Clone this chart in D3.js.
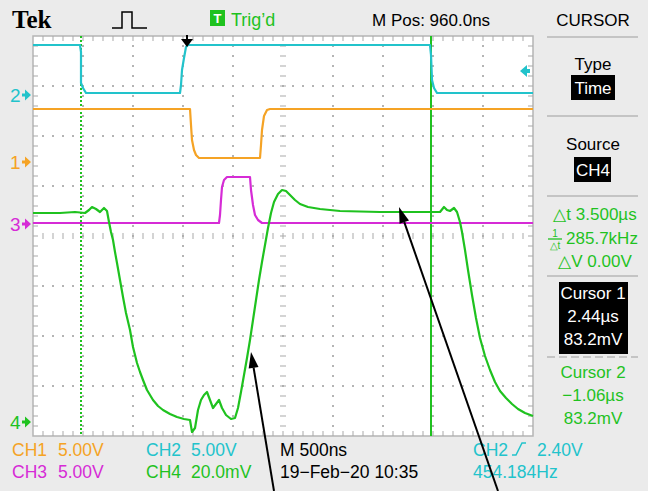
<!DOCTYPE html>
<html lang="en">
  <head>
    <meta charset="UTF-8" />
    <title>Tek scope capture</title>
    <style>
      body {
        margin: 0;
        background: #ebebeb;
      }
      svg {
        display: block;
        font-family: "Liberation Sans", Arial, sans-serif;
      }
    </style>
  </head>

  <body>
    <script src="https://cdn.jsdelivr.net/npm/d3@7"></script>
    <script>
      // horizontal setup (µs)
      const tempsParDiv = 0.5;
      const positionM = 0.96;

      // CH1 (V)
      const ch1T = [-1.54, 0.03, 0.04, 0.05, 0.07, 0.09, 0.12, 0.73, 0.74, 0.75, 0.77, 0.8, 0.83, 3.46];
      const ch1V = [5.3, 5.3, 3.7, 2.2, 1.2, 0.7, 0.4, 0.4, 1.7, 3.2, 4.6, 5.2, 5.3, 5.3];

      // CH2 (V)
      const ch2T = [-1.54, -1.07, -1.06, -1.06, -1.04, -1.01, -0.07, -0.06, -0.05, -0.03, -0.01, 0.01, 2.43, 2.44, 2.45, 2.47, 2.5, 3.46];
      const ch2V = [5.0, 5.0, 4.3, 1.2, 0.7, 0.2, 0.2, 1.0, 2.5, 3.7, 4.8, 5.0, 5.0, 4.0, 1.5, 0.7, 0.2, 0.2];

      // CH3 (V)
      const ch3T = [-1.54, 0.32, 0.33, 0.34, 0.35, 0.37, 0.4, 0.63, 0.64, 0.66, 0.68, 0.71, 0.75, 3.46];
      const ch3V = [0.1, 0.1, 0.9, 2.4, 3.7, 4.4, 4.7, 4.7, 3.4, 1.9, 0.9, 0.4, 0.1, 0.1];

      // CH4 (mV)
      const ch4T = [
        -1.54, -1.27, -1.12, -1.02, -0.98, -0.95, -0.91, -0.87, -0.83, -0.8,
        -0.78, -0.76, -0.74, -0.72, -0.7, -0.67, -0.64, -0.61, -0.57, -0.54,
        -0.5, -0.47, -0.44, -0.4, -0.34, -0.29, -0.24, -0.17, -0.1, -0.03,
        0.03, 0.05, 0.08, 0.11, 0.14, 0.17, 0.2, 0.23, 0.26, 0.29,
        0.32, 0.35, 0.39, 0.44, 0.48, 0.51, 0.54, 0.57, 0.6, 0.63,
        0.66, 0.69, 0.72, 0.75, 0.78, 0.81, 0.84, 0.87, 0.91, 0.95,
        0.99, 1.03, 1.08, 1.13, 1.21, 1.33, 1.53, 1.93, 2.33, 2.53,
        2.57, 2.6, 2.63, 2.67, 2.7, 2.73, 2.75, 2.78, 2.81, 2.85,
        2.89, 2.93, 2.98, 3.03, 3.08, 3.13, 3.19, 3.25, 3.31, 3.38, 3.46,
      ];
      const ch4V = [
        83.6, 83.6, 84.0, 83.6, 84.8, 86.0, 85.2, 84.0, 85.6, 84.4,
        80.0, 76.0, 72.8, 68.0, 63.6, 56.8, 50.0, 43.6, 36.8, 30.0,
        23.6, 20.0, 16.8, 12.8, 8.8, 6.4, 4.8, 3.2, 2.0, 1.2,
        0.8, -4.0, -2.4, 4.8, 8.8, 10.8, 12.0, 8.8, 5.6, 7.2,
        8.8, 5.6, 2.8, 1.2, 1.6, 5.6, 12.0, 18.8, 25.6, 32.8,
        40.8, 48.8, 56.8, 64.0, 70.8, 77.6, 83.6, 88.0, 91.2, 92.8,
        92.4, 90.8, 88.8, 87.2, 86.0, 85.2, 84.4, 84.0, 84.0, 84.0,
        86.0, 84.8, 84.4, 85.6, 84.0, 80.0, 76.0, 68.8, 60.8, 50.8,
        41.6, 33.6, 26.4, 20.8, 16.0, 12.4, 9.6, 7.2, 5.2, 3.6, 2.4,
      ];

      // curseurs (µs) et déclenchement
      const curseur1 = 2.44;
      const curseur2 = -1.06;
      const niveauTrig = 2.4; // V sur CH2

      const canaux = [
        { nom: "1", t: ch1T, v: ch1V, parDiv: 5, offset: 1.48, couleur: "#f5a325" },
        { nom: "2", t: ch2T, v: ch2V, parDiv: 5, offset: 2.82, couleur: "#22c3cb" },
        { nom: "3", t: ch3T, v: ch3V, parDiv: 5, offset: 0.24, couleur: "#d62bd6" },
        { nom: "4", t: ch4T, v: ch4V, parDiv: 20, offset: -3.72, couleur: "#1fc21f" },
      ];

      const vert = "#1fc21f";
      const gris = "#a9a9a9";

      const svg = d3.select("body").append("svg").attr("width", 648).attr("height", 491);

      const gauche = 33, droite = 533, haut = 36, bas = 436;

      const x = d3
        .scaleLinear()
        .domain([positionM - 5 * tempsParDiv, positionM + 5 * tempsParDiv])
        .range([gauche, droite]);
      const yDiv = d3.scaleLinear().domain([-4, 4]).range([bas, haut]);
      const yCanal = (c, v) => yDiv(c.offset + v / c.parDiv);

      dessinerGrille();
      dessinerCurseurs();
      dessinerTraces();
      dessinerMarqueurs();
      dessinerEntete();
      dessinerPanneau();
      dessinerPied();
      dessinerFleches();

      function dessinerGrille() {
        svg.append("rect")
          .attr("x", gauche).attr("y", haut)
          .attr("width", droite - gauche).attr("height", bas - haut)
          .attr("fill", "white").attr("stroke", "#b5b5b5").attr("stroke-width", 1.5);

        const g = svg.append("g").attr("fill", "#b4b4b4");
        const xsMaj = d3.range(1, 10).map((i) => gauche + i * 50);
        const ysMaj = d3.range(1, 8).map((j) => haut + j * 50);
        const xsMin = d3.range(gauche + 10, droite, 10);
        const ysMin = d3.range(haut + 10, bas, 10);

        // points de la grille
        xsMaj.forEach((xx) => {
          if (xx === 283) return;
          ysMin.forEach((yy) => g.append("rect").attr("x", xx - 1).attr("y", yy - 1).attr("width", 2).attr("height", 2));
        });
        ysMaj.forEach((yy) => {
          if (yy === 236) return;
          xsMin.forEach((xx) => g.append("rect").attr("x", xx - 1).attr("y", yy - 1).attr("width", 2).attr("height", 2));
        });

        // axes centraux gradués
        const t = svg.append("g").attr("stroke", gris).attr("stroke-width", 1);
        xsMin.forEach((xx) => t.append("line").attr("x1", xx).attr("x2", xx).attr("y1", 233).attr("y2", 239));
        ysMin.forEach((yy) => t.append("line").attr("x1", 280).attr("x2", 286).attr("y1", yy).attr("y2", yy));

        // graduations du bord
        xsMin.forEach((xx) => {
          t.append("line").attr("x1", xx).attr("x2", xx).attr("y1", haut).attr("y2", haut + 5);
          t.append("line").attr("x1", xx).attr("x2", xx).attr("y1", bas - 5).attr("y2", bas);
        });
        ysMin.forEach((yy) => {
          t.append("line").attr("x1", gauche).attr("x2", gauche + 5).attr("y1", yy).attr("y2", yy);
          t.append("line").attr("x1", droite - 5).attr("x2", droite).attr("y1", yy).attr("y2", yy);
        });
      }

      function dessinerCurseurs() {
        svg.append("line")
          .attr("x1", x(curseur2)).attr("x2", x(curseur2))
          .attr("y1", haut).attr("y2", bas)
          .attr("stroke", vert).attr("stroke-width", 2).attr("stroke-dasharray", "2,2");
        svg.append("line")
          .attr("x1", x(curseur1)).attr("x2", x(curseur1))
          .attr("y1", haut).attr("y2", bas)
          .attr("stroke", vert).attr("stroke-width", 2);
      }

      function dessinerTraces() {
        canaux.forEach((c) => {
          const ligne = d3
            .line()
            .x((d, i) => x(c.t[i]))
            .y((d) => yCanal(c, d));
          svg.append("path")
            .attr("d", ligne(c.v))
            .attr("fill", "none")
            .attr("stroke", c.couleur)
            .attr("stroke-width", 2.2)
            .attr("stroke-linejoin", "round");
        });
      }

      function dessinerMarqueurs() {
        canaux.forEach((c) => {
          const y0 = yCanal(c, 0);
          svg.append("text")
            .attr("x", 10).attr("y", y0 + 7)
            .attr("fill", c.couleur).attr("font-size", 19)
            .text(c.nom);
          svg.append("path")
            .attr("d", `M22,${y0 - 1.5}h3v-4l6,5.5l-6,5.5v-4h-3z`)
            .attr("fill", c.couleur);
        });

        // position du déclenchement
        const xt = x(0);
        svg.append("path")
          .attr("d", `M${xt - 1},${haut - 1}h2v4h5l-6,8l-6,-8h5z`)
          .attr("fill", "black");

        // niveau de déclenchement (CH2)
        const ch2 = canaux[1];
        const yt = yCanal(ch2, niveauTrig);
        svg.append("path")
          .attr("d", `M520,${yt}l7,-6v4h3v4h-3v4z`)
          .attr("fill", ch2.couleur);
      }

      function dessinerEntete() {
        svg.append("text")
          .attr("x", 12).attr("y", 28)
          .attr("font-family", "'Liberation Serif', serif")
          .attr("font-weight", "bold").attr("font-size", 25)
          .text("Tek");

        svg.append("path")
          .attr("d", "M112,28H122V12H132V28H147")
          .attr("fill", "none").attr("stroke", "black").attr("stroke-width", 1.5);

        svg.append("rect")
          .attr("x", 210).attr("y", 10).attr("width", 15).attr("height", 16)
          .attr("fill", vert);
        svg.append("text")
          .attr("x", 217.5).attr("y", 23).attr("text-anchor", "middle")
          .attr("fill", "white").attr("font-weight", "bold").attr("font-size", 13)
          .text("T");
        svg.append("text")
          .attr("x", 231).attr("y", 26)
          .attr("fill", vert).attr("font-size", 18)
          .text("Trig’d");

        svg.append("text")
          .attr("x", 372).attr("y", 26).attr("font-size", 17)
          .text("M Pos: 960.0ns");
        svg.append("text")
          .attr("x", 593).attr("y", 26).attr("font-size", 17).attr("text-anchor", "middle")
          .text("CURSOR");
      }

      function dessinerPanneau() {
        const cx = 593;
        const sep = (y, pointille) =>
          svg.append("line")
            .attr("x1", 547).attr("x2", 638).attr("y1", y).attr("y2", y)
            .attr("stroke", "#c4c4c4").attr("stroke-width", 2)
            .attr("stroke-dasharray", pointille ? "8,4" : null);

        sep(37);
        svg.append("text").attr("x", cx).attr("y", 70).attr("text-anchor", "middle").attr("font-size", 17).text("Type");
        svg.append("rect").attr("x", 571).attr("y", 75).attr("width", 44).attr("height", 25).attr("fill", "black");
        svg.append("text").attr("x", cx).attr("y", 94).attr("text-anchor", "middle").attr("font-size", 17).attr("fill", "white").text("Time");

        sep(116);
        svg.append("text").attr("x", cx).attr("y", 150).attr("text-anchor", "middle").attr("font-size", 17).text("Source");
        svg.append("rect").attr("x", 574).attr("y", 157).attr("width", 37).attr("height", 25).attr("fill", "black");
        svg.append("text").attr("x", cx).attr("y", 176).attr("text-anchor", "middle").attr("font-size", 17).attr("fill", "white").text("CH4");

        sep(196);
        const mesures = [
          { x: cx + 2, y: 220, txt: "△t 3.500µs" },
          { x: cx + 9, y: 244, txt: "285.7kHz" },
          { x: cx + 2, y: 267, txt: "△V 0.00V" },
        ];
        mesures.forEach((m) =>
          svg.append("text").attr("x", m.x).attr("y", m.y).attr("text-anchor", "middle")
            .attr("font-size", 17).attr("fill", vert).text(m.txt)
        );
        // fraction 1/Δt
        svg.append("text").attr("x", 555).attr("y", 237).attr("text-anchor", "middle").attr("font-size", 10).attr("fill", vert).text("1");
        svg.append("line").attr("x1", 548).attr("x2", 562).attr("y1", 239).attr("y2", 239).attr("stroke", vert).attr("stroke-width", 1.3);
        svg.append("text").attr("x", 555).attr("y", 249).attr("text-anchor", "middle").attr("font-size", 10).attr("fill", vert).text("△t");

        sep(276);
        svg.append("rect").attr("x", 559).attr("y", 282).attr("width", 69).attr("height", 72).attr("fill", "black");
        ["Cursor 1", "2.44µs", "83.2mV"].forEach((s, i) =>
          svg.append("text").attr("x", cx).attr("y", 299 + i * 23).attr("text-anchor", "middle")
            .attr("font-size", 17).attr("fill", "white").text(s)
        );

        sep(357, true);
        ["Cursor 2", "−1.06µs", "83.2mV"].forEach((s, i) =>
          svg.append("text").attr("x", cx).attr("y", 378 + i * 23).attr("text-anchor", "middle")
            .attr("font-size", 17).attr("fill", vert).text(s)
        );
      }

      function dessinerPied() {
        const lignes = [
          [
            { x: 12, txt: "CH1", c: canaux[0].couleur },
            { x: 58, txt: "5.00V", c: canaux[0].couleur },
            { x: 146, txt: "CH2", c: canaux[1].couleur },
            { x: 191, txt: "5.00V", c: canaux[1].couleur },
            { x: 280, txt: "M 500ns", c: "black" },
            { x: 473, txt: "CH2", c: canaux[1].couleur },
            { x: 537, txt: "2.40V", c: canaux[1].couleur },
          ],
          [
            { x: 12, txt: "CH3", c: canaux[2].couleur },
            { x: 58, txt: "5.00V", c: canaux[2].couleur },
            { x: 146, txt: "CH4", c: canaux[3].couleur },
            { x: 191, txt: "20.0mV", c: canaux[3].couleur },
            { x: 280, txt: "19−Feb−20 10:35", c: "black" },
            { x: 473, txt: "454.184Hz", c: canaux[1].couleur },
          ],
        ];
        lignes.forEach((l, i) =>
          l.forEach((e) =>
            svg.append("text").attr("x", e.x).attr("y", 456 + i * 22)
              .attr("font-size", 17.5).attr("fill", e.c).text(e.txt)
          )
        );
        // symbole de front montant
        svg.append("path")
          .attr("d", "M512,455h4l6,-12h4")
          .attr("fill", "none").attr("stroke", canaux[1].couleur).attr("stroke-width", 1.5);
      }

      function dessinerFleches() {
        // flèches d'annotation, en unités (µs, mV) de CH4
        const fleches = [
          { de: [0.87, -27.6], a: [0.64, 28] },
          { de: [3.11, -27.6], a: [2.12, 86] },
        ];
        const ch4 = canaux[3];
        fleches.forEach((f) => {
          const x0 = x(f.de[0]), y0 = yCanal(ch4, f.de[1]);
          const x1 = x(f.a[0]), y1 = yCanal(ch4, f.a[1]);
          const ang = Math.atan2(y1 - y0, x1 - x0);
          const L = 16, W = 5;
          const bx = x1 - L * Math.cos(ang), by = y1 - L * Math.sin(ang);
          svg.append("line").attr("x1", x0).attr("y1", y0).attr("x2", bx).attr("y2", by)
            .attr("stroke", "black").attr("stroke-width", 2);
          svg.append("path")
            .attr("d", `M${x1},${y1}L${bx + W * Math.sin(ang)},${by - W * Math.cos(ang)}L${bx - W * Math.sin(ang)},${by + W * Math.cos(ang)}Z`)
            .attr("fill", "black");
        });
      }
    </script>
  </body>
</html>
